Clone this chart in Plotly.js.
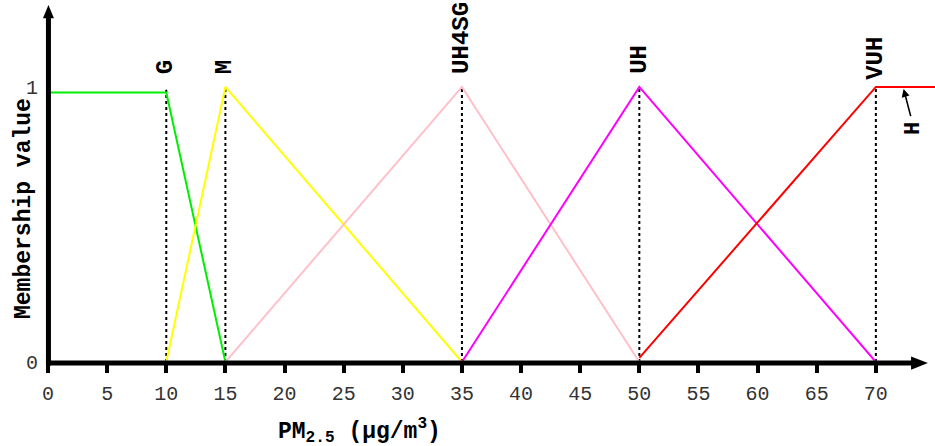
<!DOCTYPE html>
<html><head><meta charset="utf-8">
<script src="https://cdn.plot.ly/plotly-3.0.1.min.js"></script>
<style>html,body{margin:0;padding:0;background:#fff}</style>
</head><body><div id="chart" style="width:935px;height:446px"></div>
<script>
// Membership functions (PM2.5 in µg/m3 -> membership value)
const goodX = [0, 10, 15],        goodY = [0.98, 0.98, 0];
const modX  = [10, 15, 35],       modY  = [0, 1, 0];
const uh4sgX = [15, 35, 50],      uh4sgY = [0, 1, 0];
const uhX   = [35, 50, 70],       uhY   = [0, 1, 0];
const vuhX  = [50, 70, 75],       vuhY  = [0.015, 1, 1];

const peakX = [10, 15, 35, 50, 70];
const peakTop = [0.99, 1, 1, 1, 1];
const peakLabels = ['G', 'M', 'UH4SG', 'UH', 'VUH'];
const peakLabelY = [1.04, 1.04, 1.04, 1.04, 1.02];

const xTicks = [0, 5, 10, 15, 20, 25, 30, 35, 40, 45, 50, 55, 60, 65, 70];
const yTicks = [0, 1];

const hLabel = {text: 'H', x: 72.3, y: 1};

const MONO = '"Liberation Mono", "Courier New", monospace';
const mfColors = ['#00ee00', '#ffff00', '#ffc0cb', '#ff00ff', '#ff0000'];
const series = [[goodX, goodY], [modX, modY], [uh4sgX, uh4sgY], [uhX, uhY], [vuhX, vuhY]];

const traces = [];
// dashed verticals
const dx = [], dy = [];
peakX.forEach((p, i) => { dx.push(p, p, null); dy.push(0, peakTop[i], null); });
traces.push({x: dx, y: dy, mode: 'lines', line: {color: '#000', width: 2, dash: '3px,3px'}, hoverinfo: 'skip'});
series.forEach((s, i) => traces.push({x: s[0], y: s[1], mode: 'lines', line: {color: mfColors[i], width: 2}}));

const annotations = peakLabels.map((t, i) => ({
  text: '<b>' + t + '</b>', x: peakX[i], y: peakLabelY[i], xref: 'x', yref: 'y',
  textangle: -90, xanchor: 'center', yanchor: 'bottom', showarrow: false,
  font: {family: MONO, size: 24, color: '#000'}
}));
annotations.push({
  text: '<b>' + hLabel.text + '</b>', x: hLabel.x, y: hLabel.y, xref: 'x', yref: 'y',
  ax: 11, ay: 42, showarrow: true, arrowhead: 2, arrowsize: 1, arrowwidth: 1.6, arrowcolor: '#000',
  standoff: 2, startstandoff: 5, textangle: -90,
  font: {family: MONO, size: 22, color: '#000'}
});
annotations.push({
  text: '<b>PM<sub>2.5</sub> (µg/m<sup>3</sup>)</b>', xref: 'paper', yref: 'paper',
  x: 0.351, y: -0.193, xanchor: 'center', yanchor: 'middle', showarrow: false,
  font: {family: MONO, size: 23, color: '#000'}
});
annotations.push({
  text: '<b>Membership value</b>', xref: 'paper', yref: 'paper',
  x: -0.0265, y: 0.43, xanchor: 'center', yanchor: 'middle', textangle: -90, showarrow: false,
  font: {family: MONO, size: 23, color: '#000'}
});

const shapes = [
  {type: 'line', xref: 'paper', yref: 'paper', x0: 0, x1: 0.975, y0: -0.003, y1: -0.003, line: {color: '#000', width: 5}},
  {type: 'path', xref: 'paper', yref: 'paper', path: 'M 0.973 0.0155 L 0.992 -0.003 L 0.973 -0.0215 Z', fillcolor: '#000', line: {width: 0}},
  {type: 'line', xref: 'paper', yref: 'paper', x0: 0.0005, x1: 0.0005, y0: -0.01, y1: 0.966, line: {color: '#000', width: 5}},
  {type: 'path', xref: 'paper', yref: 'paper', path: 'M -0.0057 0.963 L 0.0005 1.0 L 0.0067 0.963 Z', fillcolor: '#000', line: {width: 0}}
];

const layout = {
  width: 935, height: 446,
  margin: {l: 48, r: 0, t: 5, b: 84},
  paper_bgcolor: '#fff', plot_bgcolor: '#fff',
  showlegend: false,
  xaxis: {range: [0, 75], tickvals: xTicks, ticktext: xTicks.map(String), ticks: 'outside', ticklen: 10, tickwidth: 4, tickcolor: '#000',
          ticklabelstandoff: 3, showgrid: false, zeroline: false, showline: false, tickfont: {family: MONO, size: 20, color: '#333'}},
  yaxis: {range: [0, 1.298], tickvals: yTicks, ticktext: yTicks.map(String), ticks: '', showgrid: false, zeroline: false, showline: false,
          ticklabelstandoff: 9, tickfont: {family: MONO, size: 20, color: '#333'}},
  annotations: annotations, shapes: shapes
};
Plotly.newPlot('chart', traces, layout, {displayModeBar: false, staticPlot: true});
</script></body></html>
